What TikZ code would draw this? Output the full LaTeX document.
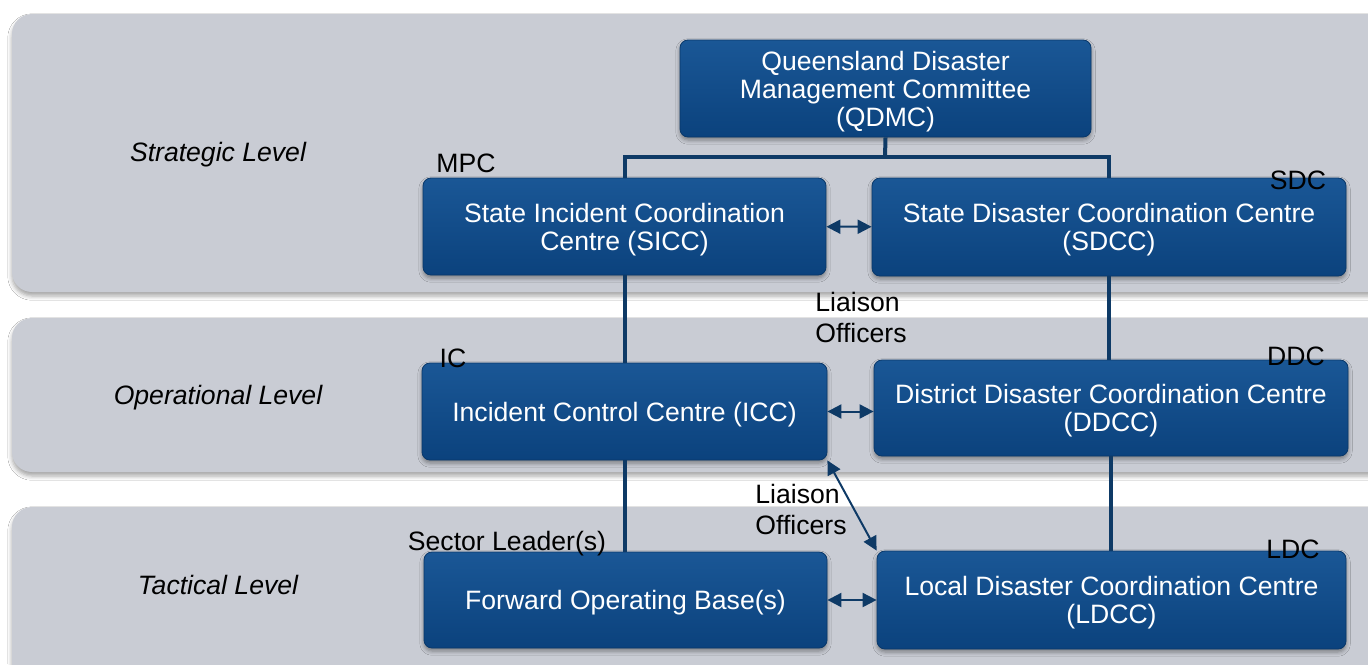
\documentclass[tikz,border=0pt]{standalone}
\usepackage{fontspec}
\setmainfont{Liberation Sans}
\usetikzlibrary{arrows.meta,shadows.blur}
\definecolor{band}{HTML}{C9CCD4}
\definecolor{boxtop}{HTML}{1A5796}
\definecolor{boxbot}{HTML}{0B427D}
\definecolor{linkblue}{HTML}{0E3A66}
\newcommand{\hubstrut}{\rule{0pt}{12.7pt}}
\tikzset{
tier/.style={fill=band,rounded corners=10pt,blur shadow={shadow xshift=0pt,shadow yshift=-2pt,shadow opacity=35}},
hub/.style={draw=boxbot!85!black,top color=boxtop,bottom color=boxbot,rounded corners=4pt,text=white,align=center,inner sep=0pt,font=\fontsize{13.3}{14}\selectfont,blur shadow={shadow xshift=0pt,shadow yshift=-1.5pt,shadow opacity=40}},
conn/.style={linkblue,line width=2pt},
liaise/.style={linkblue,line width=1pt,{Triangle[length=7pt,width=7pt]}-{Triangle[length=7pt,width=7pt]}},
tag/.style={font=\fontsize{13.3}{15.5}\selectfont,inner sep=0pt},
lvl/.style={tag,font=\fontsize{13.3}{14}\selectfont\itshape}
}
\begin{document}
\begin{tikzpicture}[x=0.5pt,y=-0.5pt]
\useasboundingbox[fill=white] (0,0) rectangle (1368,664);
\begin{scope}
\clip (0,0) rectangle (1368,664);
\fill[tier] (12,14) rectangle (1390,292);
\fill[tier] (12,318) rectangle (1390,472);
\fill[tier] (12,507) rectangle (1390,700);
\end{scope}
\node[lvl] (strat) at (218,155) {Strategic Level};
\node[lvl] (oper) at (218,398) {Operational Level};
\node[lvl] (tact) at (218,585) {Tactical Level};

\coordinate (bus) at (885,157);
\node[hub,minimum width=205.5pt,minimum height=48.5pt] (qdmc) at (885.5,88.5) {\hubstrut Queensland Disaster\\Management Committee\\(QDMC)};
\node[hub,minimum width=201.5pt,minimum height=48.5pt] (sicc) at (624.5,226.5) {\hubstrut State Incident Coordination\\Centre (SICC)};
\node[hub,minimum width=237pt,minimum height=49pt] (sdcc) at (1109,227) {\hubstrut State Disaster Coordination Centre\\(SDCC)};
\node[hub,minimum width=202.5pt,minimum height=48.5pt] (icc) at (624.5,411.5) {\hubstrut Incident Control Centre (ICC)};
\node[hub,minimum width=237pt,minimum height=48pt] (ddcc) at (1111,408) {\hubstrut District Disaster Coordination Centre\\(DDCC)};
\node[hub,minimum width=201.5pt,minimum height=48pt] (fob) at (625.5,600) {\hubstrut Forward Operating Base(s)};
\node[hub,minimum width=234.5pt,minimum height=49pt] (ldcc) at (1111.5,600) {\hubstrut Local Disaster Coordination Centre\\(LDCC)};

\draw[conn] (qdmc.south) -- (bus);
\draw[conn] (sicc.north) |- (bus) -| (sdcc.north);
\draw[conn] (sicc.south) -- (icc.north);
\draw[conn] (sdcc.south) -- (sdcc.south |- ddcc.north);
\draw[conn] (icc.south) -- (icc.south |- fob.north);
\draw[conn] (ddcc.south) -- (ddcc.south |- ldcc.north);

\draw[liaise] (sicc) -- (sdcc);
\draw[liaise] (icc) -- (icc -| ddcc.west);
\draw[liaise] (fob) -- (ldcc);
\draw[liaise] (icc.south east) -- (ldcc.north west);

\node[tag] (mpc) at (466,163) {MPC};
\node[tag] (sdc) at (1298,180) {SDC};
\node[tag] (ic) at (453,358) {IC};
\node[tag] (ddc) at (1296,356) {DDC};
\node[tag] (sl) at (507,544) {Sector Leader(s)};
\node[tag] (ldc) at (1293,549) {LDC};
\node[tag,align=left,anchor=west] (lo1) at (815,317) {Liaison\\Officers};
\node[tag,align=left,anchor=west] (lo2) at (755,509.5) {Liaison\\Officers};
\end{tikzpicture}
\end{document}
